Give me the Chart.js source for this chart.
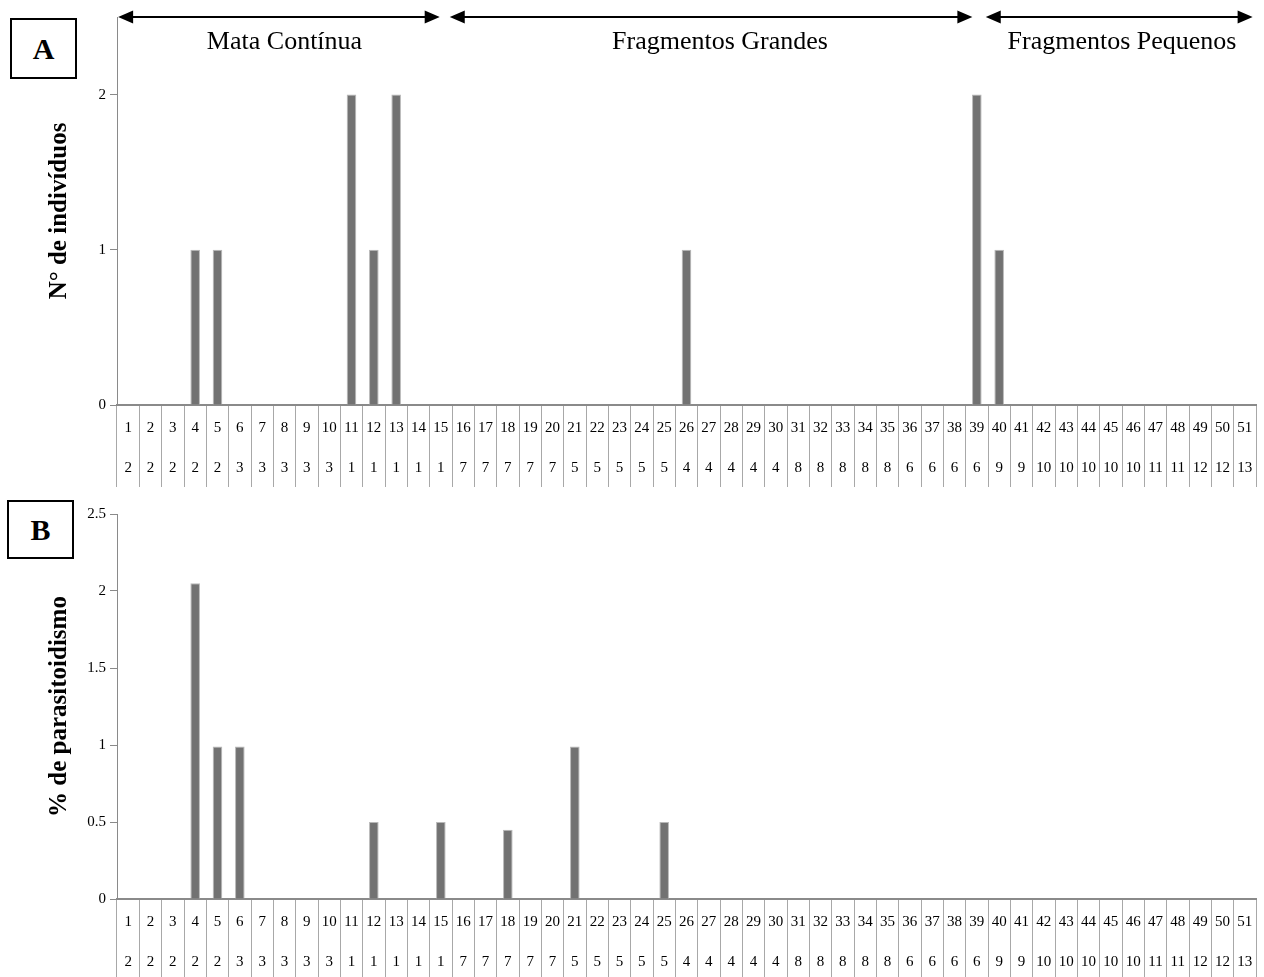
<!DOCTYPE html>
<html>
<head>
<meta charset="utf-8">
<script src="https://cdn.jsdelivr.net/npm/chart.js@4.4.1/dist/chart.umd.min.js"></script>
<style>
    body { margin: 0; background: #fff; overflow: hidden; }
    #pagina { position: relative; width: 1264px; height: 977px; }
    canvas { position: absolute; left: 0; }
    #graficoA { top: 0; }
    #graficoB { top: 495px; }
    .caixa {
        position: absolute; border: 2px solid #000; background: #fff;
        font: bold 30px "Liberation Serif", serif; text-align: center;
        box-sizing: border-box;
    }
    #caixaA { left: 10px; top: 18px; width: 67px; height: 61px; line-height: 57px; }
    #caixaB { left: 7px; top: 500px; width: 67px; height: 59px; line-height: 55px; }
</style>
</head>
<body>
<div id="pagina">
    <canvas id="graficoA" width="1264" height="488"></canvas>
    <canvas id="graficoB" width="1264" height="487"></canvas>
    <div class="caixa" id="caixaA">A</div>
    <div class="caixa" id="caixaB">B</div>
</div>
<script>
// linha de cima do eixo x (ponto) e linha de baixo (fragmento)
const linha1 = ['1','2','3','4','5','6','7','8','9','10','11','12','13','14','15','16','17',
    '18','19','20','21','22','23','24','25','26','27','28','29','30','31','32','33','34',
    '35','36','37','38','39','40','41','42','43','44','45','46','47','48','49','50','51'];
const linha2 = ['2','2','2','2','2','3','3','3','3','3','1','1','1','1','1','7','7',
    '7','7','7','5','5','5','5','5','4','4','4','4','4','8','8','8','8',
    '8','6','6','6','6','9','9','10','10','10','10','10','11','11','12','12','13'];

// A: numero de individuos
const individuos = [0,0,0,1,1,0,0,0,0,0,2,1,2,0,0,
    0,0,0,0,0,0,0,0,0,0,1,0,0,0,0,
    0,0,0,0,0,0,0,0,2,1,0,0,0,0,0,
    0,0,0,0,0,0];

// B: % de parasitoidismo
const parasitoidismo = [0,0,0,2.05,0.99,0.99,0,0,0,0,0,0.5,0,0,0.5,
    0,0,0.45,0,0,0.99,0,0,0,0.5,0,0,0,0,0,
    0,0,0,0,0,0,0,0,0,0,0,0,0,0,0,
    0,0,0,0,0,0];

// grupos de areas (em unidades de categoria)
const grupos = ['Mata Contínua', 'Fragmentos Grandes', 'Fragmentos Pequenos'];
const grupoLimites = [0, 15, 39, 51];
const setaInicio = [0.05, 14.9, 38.9];
const setaFim = [14.45, 38.3, 50.85];

const fonteSerif = '"Liberation Serif", "Times New Roman", serif';
const rotulos = linha1.map((v, i) => [v, linha2[i]]);

function desenharSeta(ctx, x1, x2, y) {
    const ponta = 15, meia = 6.5;
    ctx.beginPath();
    ctx.moveTo(x1 + ponta - 2, y);
    ctx.lineTo(x2 - ponta + 2, y);
    ctx.stroke();
    ctx.beginPath();
    ctx.moveTo(x1, y);
    ctx.lineTo(x1 + ponta, y - meia);
    ctx.lineTo(x1 + ponta, y + meia);
    ctx.closePath();
    ctx.fill();
    ctx.beginPath();
    ctx.moveTo(x2, y);
    ctx.lineTo(x2 - ponta, y - meia);
    ctx.lineTo(x2 - ponta, y + meia);
    ctx.closePath();
    ctx.fill();
}

const pluginGrupos = {
    id: 'grupos',
    afterDraw(chart) {
        const ctx = chart.ctx;
        const x = chart.scales.x;
        const px = u => x.getPixelForValue(u - 0.5);
        ctx.save();
        ctx.strokeStyle = '#000';
        ctx.fillStyle = '#000';
        ctx.lineWidth = 2;
        for (let i = 0; i < grupos.length; i++) {
            desenharSeta(ctx, px(setaInicio[i]), px(setaFim[i]), 17);
        }
        ctx.font = '26px ' + fonteSerif;
        ctx.textAlign = 'center';
        ctx.textBaseline = 'middle';
        for (let i = 0; i < grupos.length; i++) {
            const meio = (px(grupoLimites[i]) + px(grupoLimites[i + 1])) / 2;
            ctx.fillText(grupos[i], meio, 42);
        }
        ctx.restore();
    }
};

function criarGrafico(id, dados, titulo, passo, topo, plugins) {
    const ctx = document.getElementById(id).getContext('2d');
    return new Chart(ctx, {
        type: 'bar',
        data: {
            labels: rotulos,
            datasets: [{
                data: dados,
                backgroundColor: '#727272',
                borderColor: '#b8b8b8',
                borderWidth: 1,
                borderSkipped: 'bottom',
                barPercentage: 0.43,
                categoryPercentage: 1.0
            }]
        },
        options: {
            responsive: false,
            animation: false,
            layout: { padding: { left: 45, right: 8, top: topo, bottom: 0 } },
            plugins: { legend: { display: false }, tooltip: { enabled: false } },
            scales: {
                x: {
                    afterFit: s => { s.height = 83; },
                    border: { color: '#8a8a8a', width: 2 },
                    grid: {
                        offset: true,
                        drawOnChartArea: false,
                        tickLength: 82,
                        color: '#a8a8a8',
                        lineWidth: 1
                    },
                    ticks: {
                        autoSkip: false,
                        maxRotation: 0,
                        padding: -79,
                        color: '#000',
                        font: { family: fonteSerif, size: 15, lineHeight: '40px' }
                    }
                },
                y: {
                    min: 0,
                    max: 2.5,
                    afterFit: s => { s.width = 72; },
                    border: { color: '#8a8a8a', width: 1 },
                    grid: { drawOnChartArea: false, tickLength: 7, color: '#8a8a8a' },
                    ticks: {
                        stepSize: passo,
                        includeBounds: false,
                        padding: 4,
                        color: '#000',
                        font: { family: fonteSerif, size: 15 },
                        callback: v => String(v)
                    },
                    title: {
                        display: true,
                        text: titulo,
                        padding: 0,
                        color: '#000',
                        font: { family: fonteSerif, size: 25, weight: 'bold' }
                    }
                }
            }
        },
        plugins: plugins
    });
}

criarGrafico('graficoA', individuos, 'N° de indivíduos', 1, 17, [pluginGrupos]);
criarGrafico('graficoB', parasitoidismo, '% de parasitoidismo', 0.5, 19, []);
</script>
</body>
</html>
